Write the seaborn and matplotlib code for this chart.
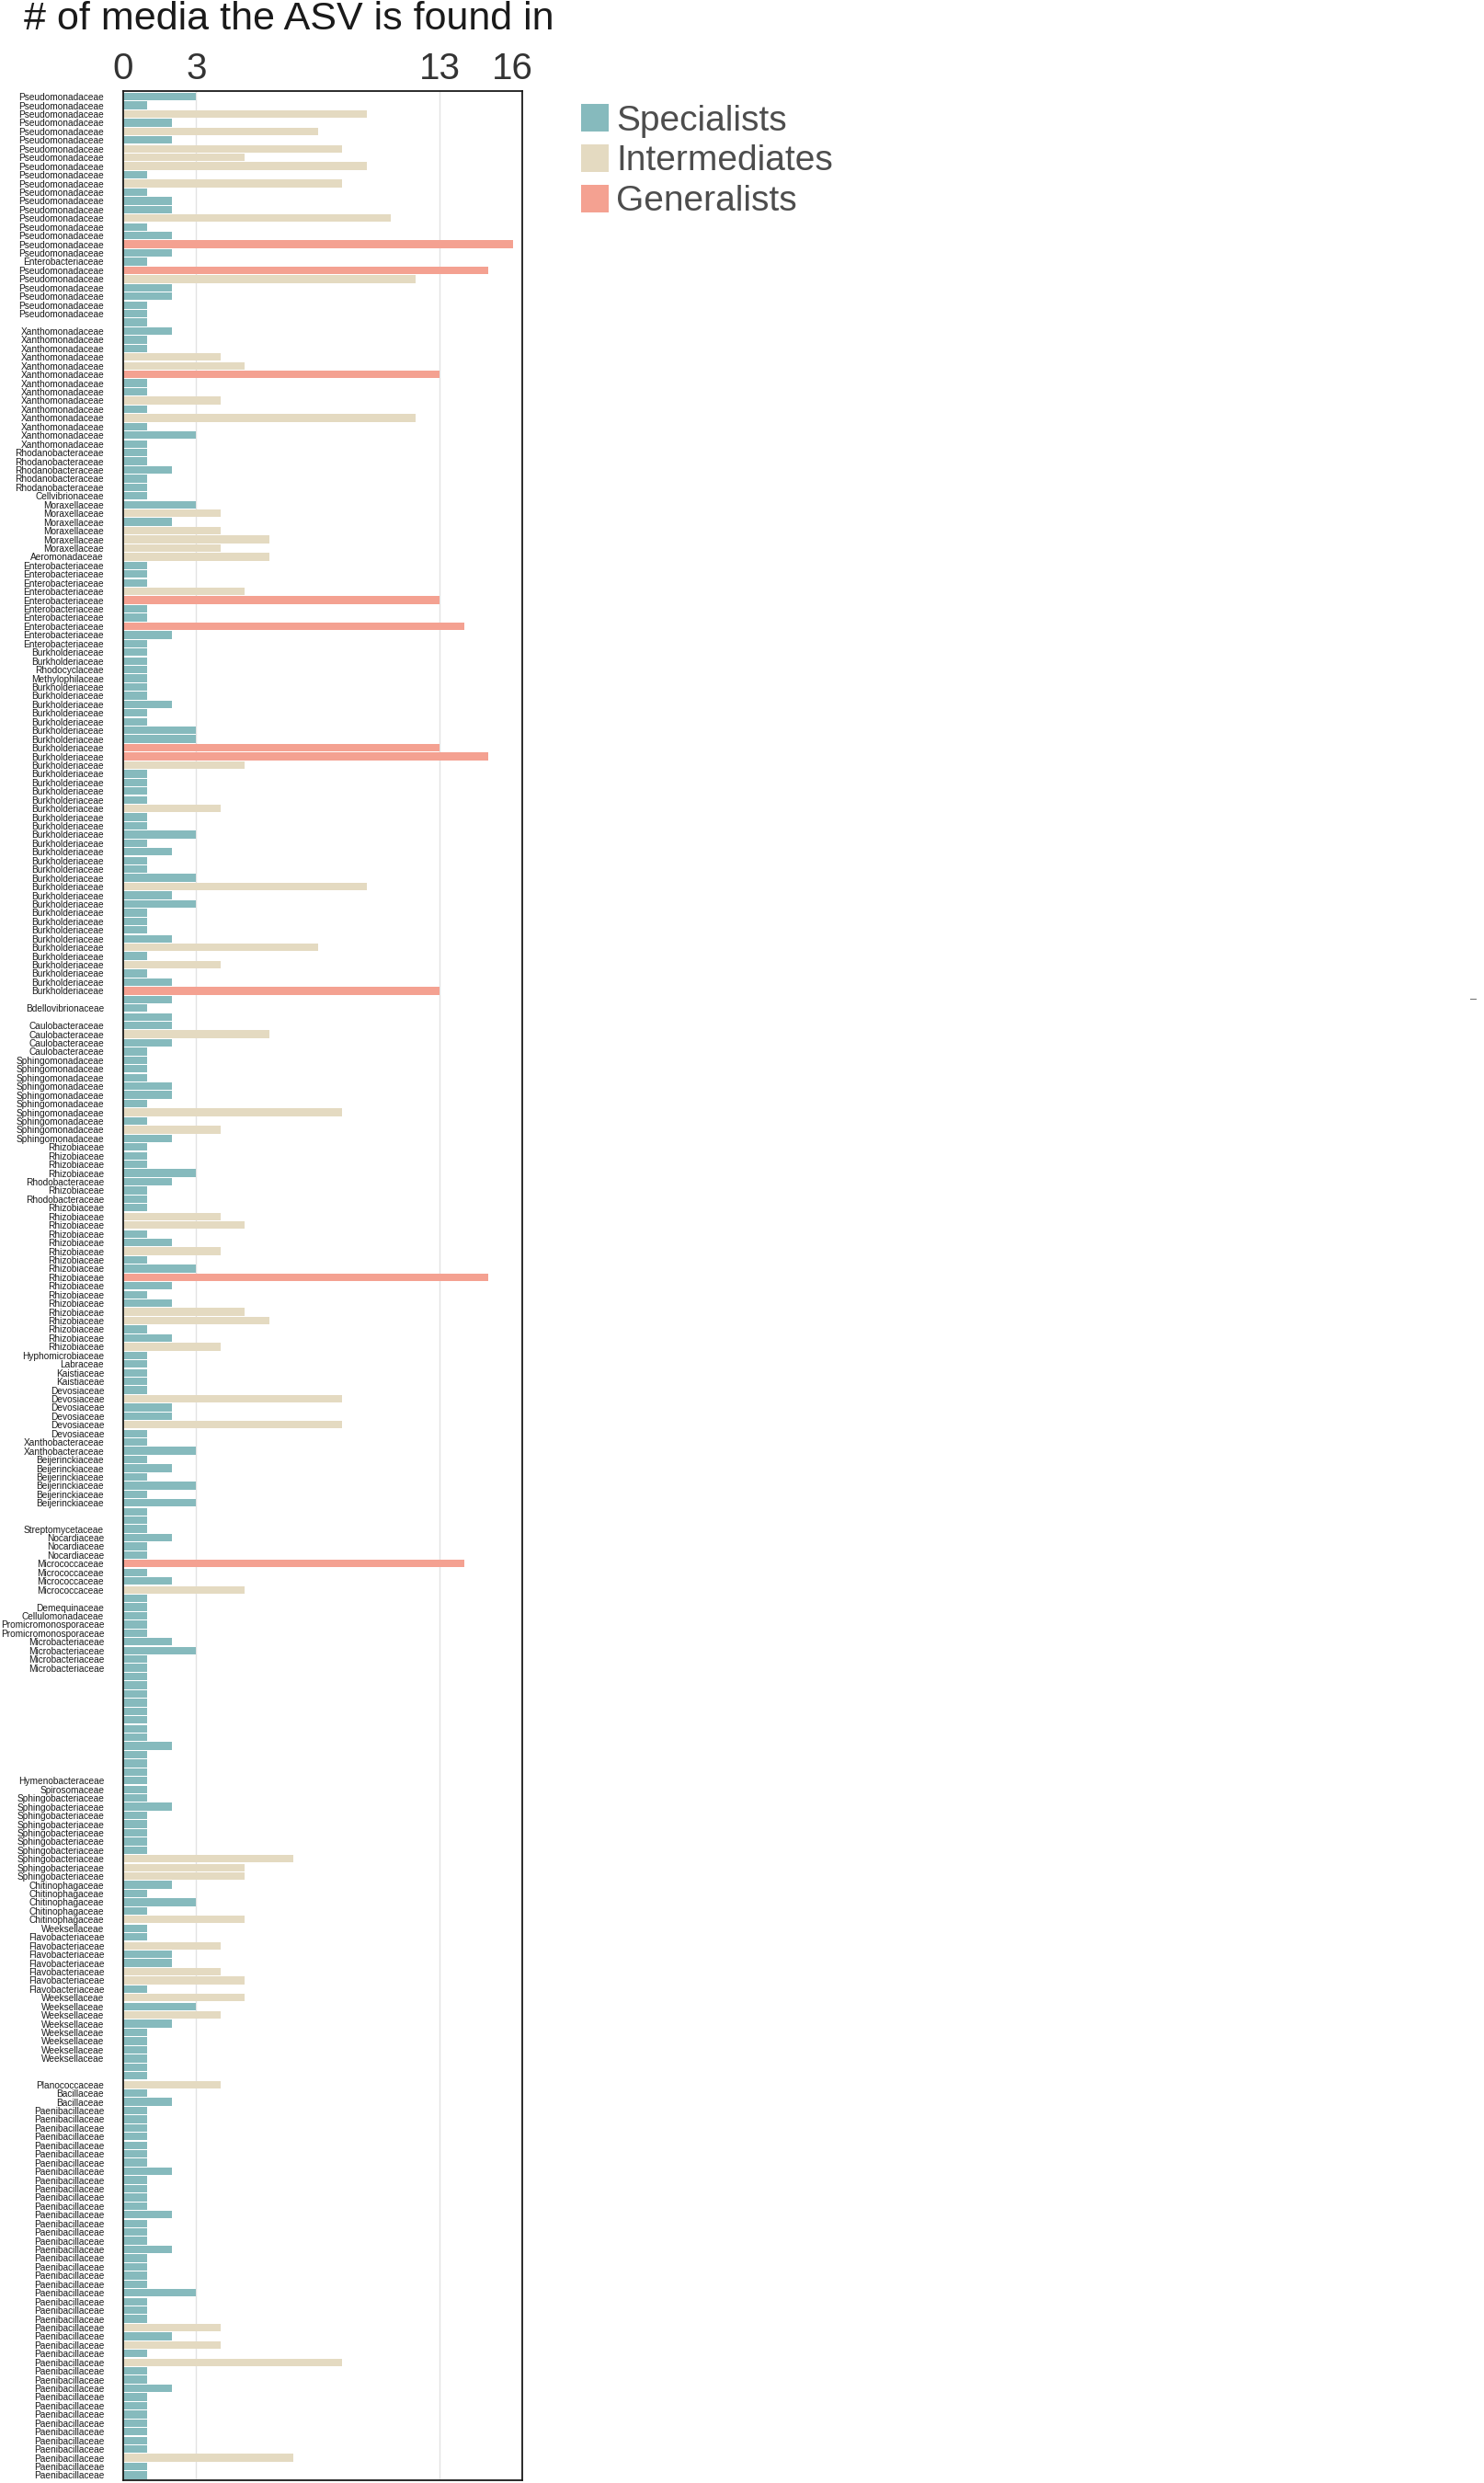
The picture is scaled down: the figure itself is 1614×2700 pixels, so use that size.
import matplotlib
matplotlib.use("Agg")
import matplotlib.pyplot as plt
import seaborn as sns
import pandas as pd
from matplotlib.patches import Patch

# family of each ASV, top to bottom, as (family, number of rows); "" = unlabelled row
family_runs = [
    ("Pseudomonadaceae", 19), ("Enterobacteriaceae", 1), ("Pseudomonadaceae", 6), ("", 1),
    ("Xanthomonadaceae", 14), ("Rhodanobacteraceae", 5), ("Cellvibrionaceae", 1),
    ("Moraxellaceae", 6), ("Aeromonadaceae", 1), ("Enterobacteriaceae", 10),
    ("Burkholderiaceae", 2), ("Rhodocyclaceae", 1), ("Methylophilaceae", 1),
    ("Burkholderiaceae", 36), ("", 1), ("Bdellovibrionaceae", 1), ("", 1),
    ("Caulobacteraceae", 4), ("Sphingomonadaceae", 10), ("Rhizobiaceae", 4),
    ("Rhodobacteraceae", 1), ("Rhizobiaceae", 1), ("Rhodobacteraceae", 1), ("Rhizobiaceae", 17),
    ("Hyphomicrobiaceae", 1), ("Labraceae", 1), ("Kaistiaceae", 2), ("Devosiaceae", 6),
    ("Xanthobacteraceae", 2), ("Beijerinckiaceae", 6), ("", 2), ("Streptomycetaceae", 1),
    ("Nocardiaceae", 3), ("Micrococcaceae", 4), ("", 1), ("Demequinaceae", 1),
    ("Cellulomonadaceae", 1), ("Promicromonosporaceae", 2), ("Microbacteriaceae", 4), ("", 12),
    ("Hymenobacteraceae", 1), ("Spirosomaceae", 1), ("Sphingobacteriaceae", 10),
    ("Chitinophagaceae", 5), ("Weeksellaceae", 1), ("Flavobacteriaceae", 7),
    ("Weeksellaceae", 8), ("", 2), ("Planococcaceae", 1), ("Bacillaceae", 2),
    ("Paenibacillaceae", 43),
]

# number of media each ASV is found in (same order as the rows)
media_counts = [
    3, 1, 10, 2, 8, 2, 9, 5, 10, 1, 9, 1, 2, 2, 11, 1, 2, 16, 2, 1, 15, 12, 2, 2, 1, 1, 1,
    2, 1, 1, 4, 5, 13, 1, 1, 4, 1, 12, 1, 3, 1, 1, 1, 2, 1, 1, 1, 3, 4, 2, 4, 6, 4, 6,
    1, 1, 1, 5, 13, 1, 1, 14, 2, 1, 1, 1, 1, 1, 1, 1, 2, 1, 1, 3, 3, 13, 15, 5, 1, 1, 1, 1,
    4, 1, 1, 3, 1, 2, 1, 1, 3, 10, 2, 3, 1, 1, 1, 2, 8, 1, 4, 1, 2, 13, 2, 1, 2, 2, 6, 2, 1,
    1, 1, 1, 2, 2, 1, 9, 1, 4, 2, 1, 1, 1, 3, 2, 1, 1, 1, 4, 5, 1, 2, 4, 1, 3, 15, 2, 1, 2, 5,
    6, 1, 2, 4,
    1, 1, 1, 1, 1, 9, 2, 2, 9, 1, 1, 3, 1, 2, 1, 3, 1, 3, 1, 1, 1, 2, 1, 1, 14, 1, 2, 5, 1, 1,
    1, 1, 1, 2, 3, 1, 1,
    1, 1, 1, 1, 1, 1, 1, 1, 2, 1, 1, 1, 1, 1, 1, 2, 1, 1, 1, 1, 1, 7, 5, 5, 2, 1, 3, 1, 5, 1,
    1, 4, 2, 2, 4, 5, 1, 5, 3, 4, 2, 1, 1, 1, 1, 1, 1, 4, 1, 2,
    1, 1, 1, 1, 1, 1, 1, 2, 1, 1, 1, 1, 2, 1, 1, 1, 2, 1, 1, 1, 1, 3, 1, 1, 1, 4, 2, 4, 1, 9,
    1, 1, 2, 1, 1, 1, 1, 1, 1, 1, 7, 1, 1,
]

group_names = ["Specialists", "Intermediates", "Generalists"]
group_bins = [0, 3, 12, 16]
group_colors = ["#86BABD", "#E4DAC1", "#F4A191"]
x_ticks = [0, 3, 13, 16]

labels = [name for name, n in family_runs for _ in range(n)]
df = pd.DataFrame({
    "row": [f"asv{i}" for i in range(len(media_counts))],
    "family": labels,
    "n_media": media_counts,
})
df["group"] = pd.cut(df["n_media"], bins=group_bins, labels=group_names)

sns.set_style("white")
plt.rcParams["font.family"] = ["Liberation Sans", "DejaVu Sans"]

fig = plt.figure(figsize=(16.14, 27), dpi=100)
ax = fig.add_axes([0.083, 0.001, 0.269, 0.9623])

sns.barplot(
    data=df, x="n_media", y="row", hue="group", hue_order=group_names,
    palette=group_colors, order=df["row"], orient="h", dodge=False,
    width=0.88, saturation=1, legend=False, linewidth=0, ax=ax,
)

ax.set_yticks(range(len(df)))
ax.set_yticklabels(df["family"], fontsize=7.3, color="#1A1A1A")
ax.tick_params(axis="y", length=0, pad=15)
ax.set_ylim(len(df) - 0.38, -0.64)

ax.set_xlim(0, 16.4)
ax.xaxis.tick_top()
ax.set_xticks(x_ticks)
ax.tick_params(axis="x", length=0, pad=4, labelsize=29, labelcolor="#333333")
ax.set_xlabel("")
ax.set_ylabel("")

ax.grid(axis="x", color="#E3E3E3", linewidth=1)
for v, line in zip(x_ticks, ax.get_xgridlines()):
    if v in (0, 16):
        line.set_visible(False)
ax.set_axisbelow(True)

for side in ["top", "bottom", "left", "right"]:
    ax.spines[side].set_visible(True)
    ax.spines[side].set_color("#1A1A1A")
    ax.spines[side].set_linewidth(1.3)

fig.text(0.016, 0.9882, "# of media the ASV is found in", fontsize=31,
         color="#1A1A1A", ha="left", va="baseline")

handles = [Patch(facecolor=c, edgecolor="none", label=n)
           for n, c in zip(group_names, group_colors)]
fig.legend(handles=handles, loc="upper left", bbox_to_anchor=(0.3915, 0.958),
           frameon=False, fontsize=28, handlelength=0.78, handleheight=0.78,
           handletextpad=0.2, labelspacing=0.2, borderpad=0, borderaxespad=0,
           labelcolor="#4D4D4D")

fig.text(0.9926, 1 - 1087 / 2700, "–", fontsize=9, color="#555555",
         ha="center", va="center")

fig.savefig("out.png", dpi=100)
